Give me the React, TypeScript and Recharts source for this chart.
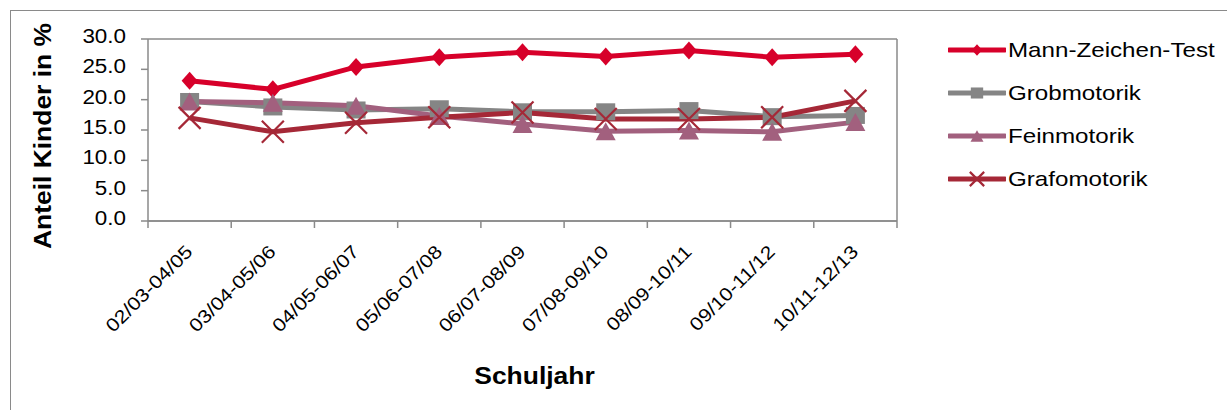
import React from 'react';
import { LineChart, Line, XAxis, YAxis, CartesianGrid, Legend } from 'recharts';

const schoolYears = [
  '02/03-04/05',
  '03/04-05/06',
  '04/05-06/07',
  '05/06-07/08',
  '06/07-08/09',
  '07/08-09/10',
  '08/09-10/11',
  '09/10-11/12',
  '10/11-12/13',
];
const mannZeichen = [23.1, 21.7, 25.4, 27.0, 27.8, 27.1, 28.1, 27.0, 27.5];
const grobmotorik = [19.7, 18.8, 18.3, 18.5, 18.0, 18.0, 18.2, 17.2, 17.4];
const feinmotorik = [19.7, 19.5, 19.0, 17.3, 16.0, 14.8, 14.9, 14.7, 16.3];
const grafomotorik = [17.0, 14.7, 16.2, 17.1, 17.9, 16.8, 16.8, 17.1, 19.8];
const yTicks = [0, 5, 10, 15, 20, 25, 30];

const data = schoolYears.map((year, i) => ({
  year,
  mann: mannZeichen[i],
  grob: grobmotorik[i],
  fein: feinmotorik[i],
  grafo: grafomotorik[i],
}));

const W = 1227;
const H = 410;
const MARGIN = { top: 39, right: 329, bottom: 0, left: 0 };
const Y_AXIS_W = 148;
const PLOT_W = W - MARGIN.left - MARGIN.right - Y_AXIS_W - 1;
const BAND = PLOT_W / schoolYears.length;
const FONT = '"Liberation Sans", Arial, sans-serif';
const AXIS = '#8a8a8a';
const STRETCH = 1.15;

type Shape = 'diamond' | 'square' | 'triangle' | 'cross';

const series: { key: string; name: string; color: string; shape: Shape }[] = [
  { key: 'mann', name: 'Mann-Zeichen-Test', color: '#D7002A', shape: 'diamond' },
  { key: 'grob', name: 'Grobmotorik', color: '#858585', shape: 'square' },
  { key: 'fein', name: 'Feinmotorik', color: '#A2607E', shape: 'triangle' },
  { key: 'grafo', name: 'Grafomotorik', color: '#A52837', shape: 'cross' },
];

const Marker = ({ cx, cy, shape, color, s = 1 }: { cx: number; cy: number; shape: Shape; color: string; s?: number }) => {
  if (shape === 'diamond') {
    const w = 8 * s;
    const h = 9 * s;
    return <path d={`M${cx},${cy - h}L${cx + w},${cy}L${cx},${cy + h}L${cx - w},${cy}Z`} fill={color} />;
  }
  if (shape === 'square') {
    const w = 9.5 * s;
    const h = 8.5 * s;
    return <rect x={cx - w} y={cy - h} width={2 * w} height={2 * h} fill={color} />;
  }
  if (shape === 'triangle') {
    const w = 10 * s;
    const h = 9 * s;
    return <path d={`M${cx},${cy - h}L${cx + w},${cy + h}L${cx - w},${cy + h}Z`} fill={color} />;
  }
  const r = 11 * s;
  return (
    <path
      d={`M${cx - r},${cy - r}L${cx + r},${cy + r}M${cx - r},${cy + r}L${cx + r},${cy - r}`}
      stroke={color}
      strokeWidth={2.2}
      fill="none"
    />
  );
};

const YTick = ({ x, y, payload }: any) => (
  <text
    transform={`translate(${x},${y + 4}) scale(${STRETCH},1)`}
    textAnchor="end"
    fontSize={19.5}
    fontFamily={FONT}
    fill="#000"
  >
    {Number(payload.value).toFixed(1)}
  </text>
);

const XTick = ({ x, y, payload, index }: any) => {
  const half = BAND / 2;
  return (
    <g>
      <line x1={x - half} x2={x - half} y1={y - 7} y2={y} stroke={AXIS} strokeWidth={1.5} />
      {index === schoolYears.length - 1 && (
        <line x1={x + half} x2={x + half} y1={y - 7} y2={y} stroke={AXIS} strokeWidth={1.5} />
      )}
      <text
        transform={`translate(${x + 4},${y + 25}) rotate(-45) scale(${STRETCH},1)`}
        textAnchor="end"
        fontSize={18.5}
        fontFamily={FONT}
        fill="#000"
      >
        {payload.value}
      </text>
    </g>
  );
};

const renderLegend = () => (
  <div style={{ fontFamily: FONT }}>
    {series.map((s) => (
      <div key={s.key} style={{ display: 'flex', alignItems: 'center', height: 43 }}>
        <svg width={58} height={24} style={{ display: 'block' }}>
          <line x1={1} x2={57} y1={12} y2={12} stroke={s.color} strokeWidth={5} strokeLinecap="round" />
          <Marker cx={29} cy={12} shape={s.shape} color={s.color} s={0.65} />
        </svg>
        <span
          style={{
            fontSize: 21,
            color: '#000',
            marginLeft: 2,
            display: 'inline-block',
            transform: `scaleX(${STRETCH})`,
            transformOrigin: 'left center',
            whiteSpace: 'nowrap',
          }}
        >
          {s.name}
        </span>
      </div>
    ))}
  </div>
);

export default function App() {
  return (
    <div style={{ position: 'absolute', left: 0, top: 0, width: W, height: H, background: '#fff', overflow: 'hidden' }}>
      <div
        style={{
          position: 'absolute',
          left: 10,
          top: 10,
          width: W,
          height: H,
          borderTop: `1.5px solid ${AXIS}`,
          borderLeft: `1.5px solid ${AXIS}`,
        }}
      />
      <div style={{ position: 'absolute', left: 0, top: 0 }}>
        <LineChart width={W} height={H} data={data} margin={MARGIN}>
          <CartesianGrid vertical={false} stroke={AXIS} strokeWidth={1.5} />
          <XAxis
            dataKey="year"
            scale="band"
            height={H - 221}
            interval={0}
            tickLine={false}
            tickSize={7}
            tickMargin={0}
            tick={<XTick />}
            axisLine={{ stroke: AXIS, strokeWidth: 1.5 }}
            label={({ viewBox }: any) => (
              <text
                transform={`translate(${viewBox.x + viewBox.width / 2 + 12},${viewBox.y + 163}) scale(${STRETCH},1)`}
                textAnchor="middle"
                fontSize={23}
                fontWeight="bold"
                fontFamily={FONT}
                fill="#000"
              >
                Schuljahr
              </text>
            )}
          />
          <YAxis
            yAxisId="left"
            width={Y_AXIS_W}
            domain={[0, 30]}
            ticks={yTicks}
            interval={0}
            tickSize={7}
            tickMargin={15}
            tick={<YTick />}
            tickLine={{ stroke: AXIS, strokeWidth: 1.5 }}
            axisLine={{ stroke: AXIS, strokeWidth: 1.5 }}
            label={({ viewBox }: any) => (
              <text
                transform={`translate(43,${viewBox.y + viewBox.height / 2 + 6}) rotate(-90) scale(${STRETCH},1)`}
                textAnchor="middle"
                dominantBaseline="central"
                fontSize={23}
                fontWeight="bold"
                fontFamily={FONT}
                fill="#000"
              >
                Anteil Kinder in %
              </text>
            )}
          />
          <YAxis
            yAxisId="right"
            orientation="right"
            width={1}
            domain={[0, 30]}
            tick={false}
            tickLine={false}
            axisLine={{ stroke: AXIS, strokeWidth: 1.5 }}
          />
          {series.map((s) => (
            <Line
              key={s.key}
              yAxisId="left"
              type="linear"
              dataKey={s.key}
              name={s.name}
              stroke={s.color}
              strokeWidth={5}
              isAnimationActive={false}
              activeDot={false}
              dot={(p: any) => (
                <Marker key={`${s.key}-${p.index}`} cx={p.cx} cy={p.cy} shape={s.shape} color={s.color} />
              )}
            />
          ))}
          <Legend
            layout="vertical"
            verticalAlign="middle"
            align="center"
            content={renderLegend}
            wrapperStyle={{ left: 948, top: 28, width: 279 }}
          />
        </LineChart>
      </div>
    </div>
  );
}
